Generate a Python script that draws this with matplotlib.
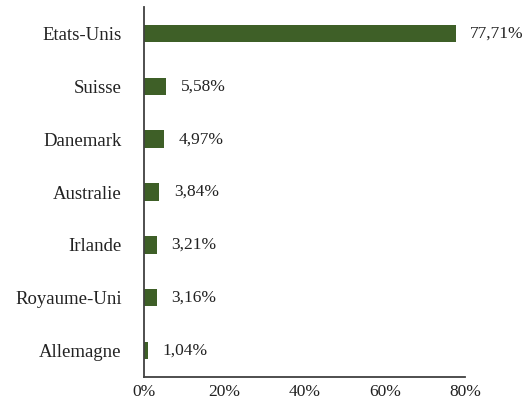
import matplotlib.pyplot as plt

pays = ['Etats-Unis', 'Suisse', 'Danemark', 'Australie', 'Irlande', 'Royaume-Uni', 'Allemagne']
parts = [77.71, 5.58, 4.97, 3.84, 3.21, 3.16, 1.04]
xticks = [0, 20, 40, 60, 80]

plt.rcParams['font.family'] = ['Liberation Serif', 'DejaVu Serif']

fig = plt.figure(figsize=(5.26, 4.05), dpi=100)
ax = fig.add_axes([0.2738, 0.0691, 0.6103, 0.9136])

y = list(range(len(pays)))
ax.barh(y, parts, height=0.33, color='#3e5f27')
for yi, v in zip(y, parts):
    ax.text(v + 3.6, yi, f"{v:.2f}%".replace('.', ','), va='center', ha='left',
            fontsize=12.5, color='#222222')

ax.set_ylim(len(pays) - 0.5, -0.5)
ax.set_xlim(0, 80)
ax.set_yticks(y)
ax.set_yticklabels(pays, fontsize=13.5, color='#222222')
ax.set_xticks(xticks)
ax.set_xticklabels([f"{t}%" for t in xticks], fontsize=12.5, color='#222222')
ax.tick_params(axis='y', length=0, pad=16)
ax.tick_params(axis='x', length=0, pad=5)
for s in ['top', 'right']:
    ax.spines[s].set_visible(False)
for s in ['left', 'bottom']:
    ax.spines[s].set_color('#404040')
    ax.spines[s].set_linewidth(1.3)

fig.savefig('out.png', dpi=100)
